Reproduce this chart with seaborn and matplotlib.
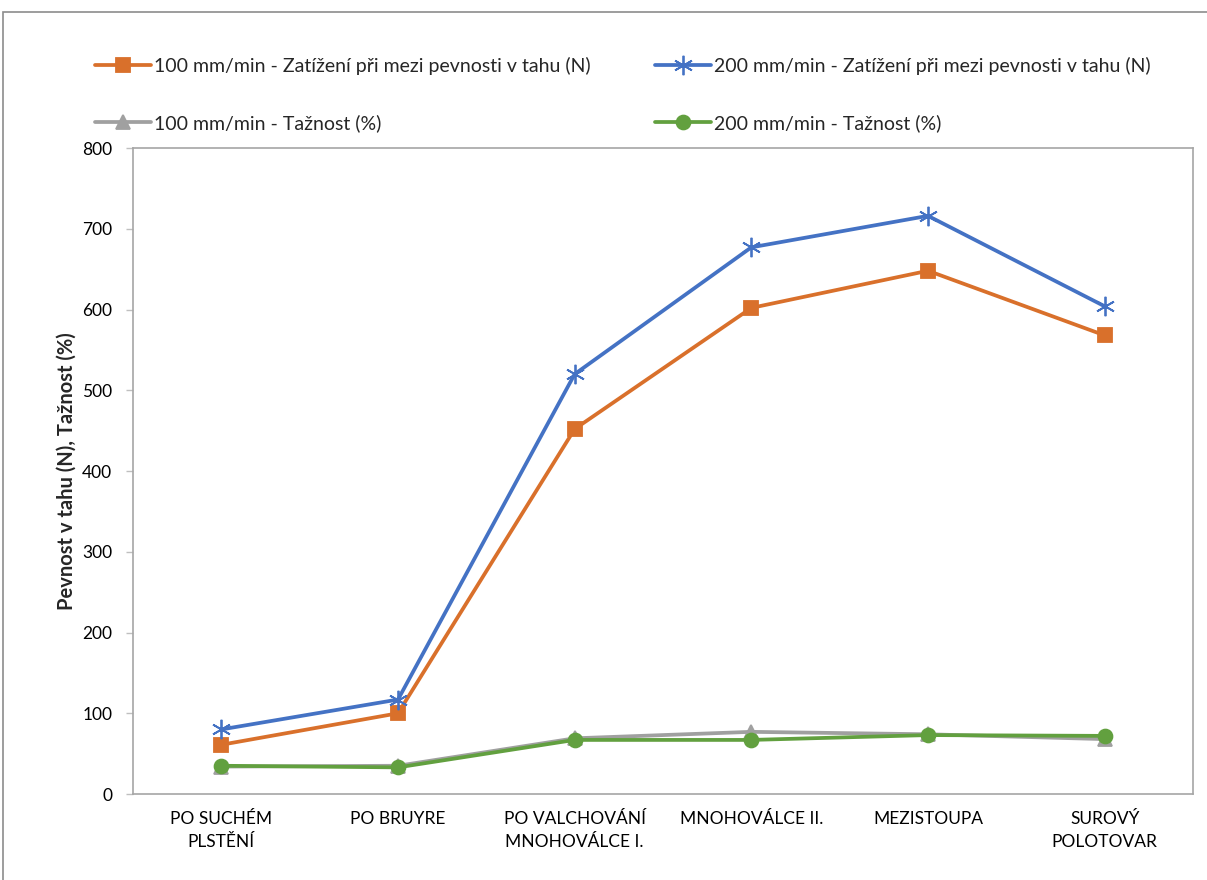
import numpy as np
import pandas as pd
import seaborn as sns
import matplotlib
matplotlib.use("Agg")
import matplotlib.pyplot as plt
from matplotlib.patches import Rectangle

# Stages of processing
categories = ["PO SUCHÉM\nPLSTĚNÍ", "PO BRUYRE", "PO VALCHOVÁNÍ\nMNOHOVÁLCE I.",
              "MNOHOVÁLCE II.", "MEZISTOUPA", "SUROVÝ\nPOLOTOVAR"]

strength_100 = [61, 100, 452, 602, 648, 568]
strength_200 = [80, 117, 520, 677, 716, 604]
elong_100 = [34, 35, 69, 77, 74, 68]
elong_200 = [35, 33, 67, 67, 73, 72]

labels = ["100 mm/min - Zatížení při mezi pevnosti v tahu (N)",
          "200 mm/min - Zatížení při mezi pevnosti v tahu (N)",
          "100 mm/min - Tažnost (%)",
          "200 mm/min - Tažnost (%)"]
y_ticks = [0, 100, 200, 300, 400, 500, 600, 700, 800]

sns.set_theme(style="white")
plt.rcParams["font.family"] = ["Lato", "DejaVu Sans"]

fig = plt.figure(figsize=(12.07, 8.8), dpi=100)
ax = fig.add_axes([0.1102, 0.0977, 0.8782, 0.7341])

pos = np.arange(len(categories))
series = [
    (strength_100, "#D9702B", "s", 10, labels[0]),
    (strength_200, "#4472C4", (6, 2, 0), 14, labels[1]),
    (elong_100, "#A0A0A0", "^", 10, labels[2]),
    (elong_200, "#62A03F", "o", 10, labels[3]),
]
handles = {}
for vals, col, mk, ms, lab in series:
    df = pd.DataFrame({"x": pos, "y": vals})
    sns.lineplot(data=df, x="x", y="y", ax=ax, color=col, linewidth=2.7,
                 marker=mk, markersize=ms, markeredgecolor=col,
                 markeredgewidth=1.3, label=lab, legend=False)
    handles[lab] = ax.lines[-1]

ax.set_xlim(-0.5, len(categories) - 0.5)
ax.set_ylim(0, 800)
ax.set_yticks(y_ticks)
ax.set_xticks(pos)
ax.set_xticklabels(categories, fontsize=12.5, linespacing=1.55)
ax.set_xticks(np.arange(-0.5, len(categories)), minor=True)
ax.tick_params(axis="x", which="major", length=0, pad=12)
ax.tick_params(axis="x", which="minor", length=6, color="#BFBFBF", width=1)
ax.tick_params(axis="y", which="major", length=5, color="#BFBFBF", width=1,
               labelsize=12.5, pad=10, left=True)
for lbl in ax.get_yticklabels() + ax.get_xticklabels():
    lbl.set_color("#000000")
for s in ax.spines.values():
    s.set_color("#A6A6A6")
    s.set_linewidth(1.2)
ax.grid(False)
ax.set_xlabel("")
ax.set_ylabel("Pevnost v tahu (N), Tažnost (%)", fontsize=14.5,
              fontweight="bold", labelpad=4)

order = [labels[0], labels[2], labels[1], labels[3]]
fig.legend([handles[l] for l in order], order, ncol=2, loc="upper left",
           bbox_to_anchor=(0.064, 0.955), frameon=False, fontsize=14,
           handlelength=2.9, handletextpad=0.15, labelspacing=2.0,
           columnspacing=3.3)

# chart outline
fig.patches.append(Rectangle((0.0025, -0.01), 1.1, 0.9965, transform=fig.transFigure,
                             fill=False, edgecolor="#8C8C8C", linewidth=1.2))

fig.savefig("out.png", dpi=100)
